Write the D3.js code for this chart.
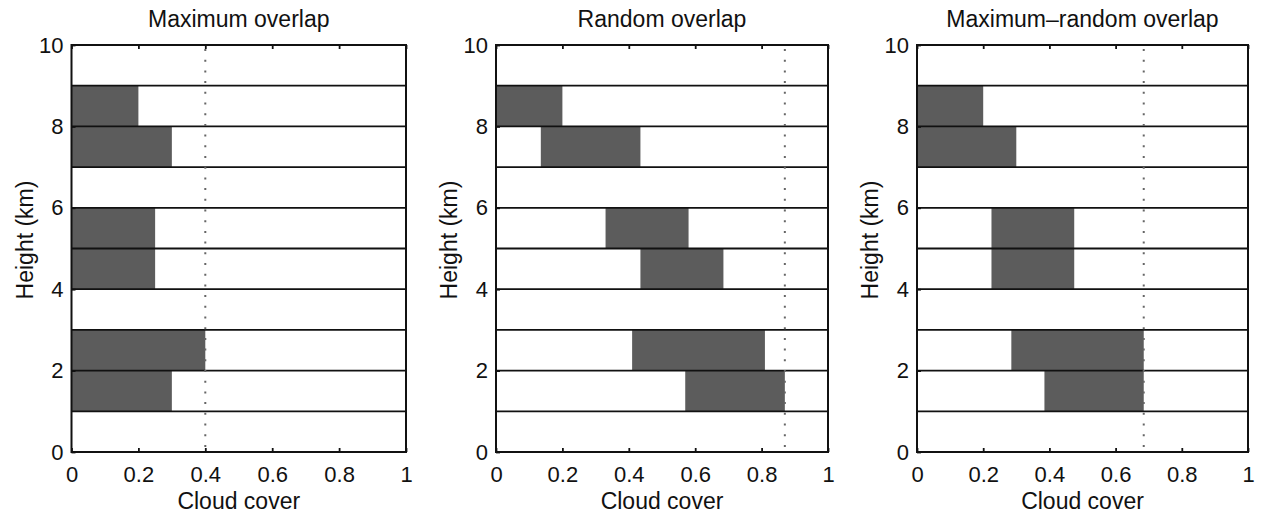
<!DOCTYPE html>
<html>
<head>
<meta charset="utf-8">
<script src="https://cdn.jsdelivr.net/npm/d3@7"></script>
<style>
  body { margin: 0; background: #fff; }
  text { font-family: "Liberation Sans", Arial, Helvetica, sans-serif; fill: #111; }
</style>
</head>
<body>
<div id="chart"></div>
<script>
// panel titles
var titles = ["Maximum overlap", "Random overlap", "Maximum\u2013random overlap"];

// cloud layers: bottom height (km), each layer is 1 km thick
var layerBase = [8, 7, 5, 4, 2, 1];

// horizontal extent of cloud in each layer, per panel
var maxStart = [0, 0, 0, 0, 0, 0];
var maxEnd = [0.2, 0.3, 0.25, 0.25, 0.4, 0.3];
var randStart = [0, 0.135, 0.33, 0.435, 0.41, 0.57];
var randEnd = [0.2, 0.435, 0.58, 0.685, 0.81, 0.87];
var mixStart = [0, 0, 0.225, 0.225, 0.285, 0.385];
var mixEnd = [0.2, 0.3, 0.475, 0.475, 0.685, 0.685];

// total cloud cover (dotted line)
var totalCover = [0.4, 0.87, 0.685];

// layer boundaries drawn as lines
var layerLines = [1, 2, 3, 4, 5, 6, 7, 8, 9];

var xTicks = [0, 0.2, 0.4, 0.6, 0.8, 1];
var yTicks = [0, 2, 4, 6, 8, 10];

var panels = [
  { start: maxStart, end: maxEnd },
  { start: randStart, end: randEnd },
  { start: mixStart, end: mixEnd }
];

var W = 1263, H = 517;
var plotTop = 45, plotBottom = 452;
var lefts = [71.5, 496, 917], rights = [406, 828, 1248];

var svg = d3.select("#chart").append("svg")
  .attr("width", W)
  .attr("height", H);

var y = d3.scaleLinear().domain([0, 10]).range([plotBottom, plotTop]);

panels.forEach(function (p, k) {
  var x = d3.scaleLinear().domain([0, 1]).range([lefts[k], rights[k]]);
  var g = svg.append("g");

  var layers = layerBase.map(function (b, i) {
    return { base: b, s: p.start[i], e: p.end[i] };
  });

  // cloud bars
  g.selectAll(".bar")
    .data(layers)
    .enter()
    .append("rect")
    .attr("class", "bar")
    .attr("x", function (d) { return x(d.s); })
    .attr("width", function (d) { return x(d.e) - x(d.s); })
    .attr("y", function (d) { return y(d.base + 1); })
    .attr("height", function (d) { return y(d.base) - y(d.base + 1); })
    .attr("fill", "#5c5c5c");

  // layer boundaries
  g.selectAll(".layer")
    .data(layerLines)
    .enter()
    .append("line")
    .attr("x1", x(0))
    .attr("x2", x(1))
    .attr("y1", function (d) { return y(d); })
    .attr("y2", function (d) { return y(d); })
    .attr("stroke", "#111")
    .attr("stroke-width", 1.8);

  // total cover dotted line
  g.append("line")
    .attr("x1", x(totalCover[k]))
    .attr("x2", x(totalCover[k]))
    .attr("y1", y(10) + 4)
    .attr("y2", y(0))
    .attr("stroke", "#666")
    .attr("stroke-width", 2)
    .attr("stroke-dasharray", "2,8.7");

  // axes with inward ticks
  g.append("g")
    .attr("transform", "translate(0," + y(0) + ")")
    .call(d3.axisBottom(x).tickValues(xTicks).tickSize(-4).tickPadding(14)
      .tickFormat(function (d) { return d === 0 || d === 1 ? d : d.toFixed(1); }))
    .call(function (a) { a.select(".domain").remove(); })
    .call(function (a) { a.selectAll("text").style("font-size", "22px").attr("fill", "#111"); })
    .call(function (a) { a.selectAll("line").attr("stroke", "#111").attr("stroke-width", 1.8); });

  g.append("g")
    .attr("transform", "translate(0," + y(10) + ")")
    .call(d3.axisTop(x).tickValues(xTicks).tickSize(-4).tickFormat(""))
    .call(function (a) { a.select(".domain").remove(); })
    .call(function (a) { a.selectAll("line").attr("stroke", "#111").attr("stroke-width", 1.8); });

  g.append("g")
    .attr("transform", "translate(" + x(0) + ",0)")
    .call(d3.axisLeft(y).tickValues(yTicks).tickSize(-4).tickPadding(8))
    .call(function (a) { a.select(".domain").remove(); })
    .call(function (a) { a.selectAll("text").style("font-size", "22px").attr("fill", "#111"); })
    .call(function (a) { a.selectAll("line").attr("stroke", "#111").attr("stroke-width", 1.8); });

  // frame
  g.append("rect")
    .attr("x", x(0))
    .attr("y", y(10))
    .attr("width", x(1) - x(0))
    .attr("height", y(0) - y(10))
    .attr("fill", "none")
    .attr("stroke", "#111")
    .attr("stroke-width", 2);

  var cx = (x(0) + x(1)) / 2;

  g.append("text")
    .attr("x", cx)
    .attr("y", 27)
    .attr("text-anchor", "middle")
    .style("font-size", "23px")
    .text(titles[k]);

  g.append("text")
    .attr("x", cx)
    .attr("y", 509)
    .attr("text-anchor", "middle")
    .style("font-size", "23px")
    .text("Cloud cover");

  g.append("text")
    .attr("transform", "translate(" + (x(0) - 39) + ",240) rotate(-90)")
    .attr("text-anchor", "middle")
    .style("font-size", "23px")
    .text("Height (km)");
});
</script>
</body>
</html>
